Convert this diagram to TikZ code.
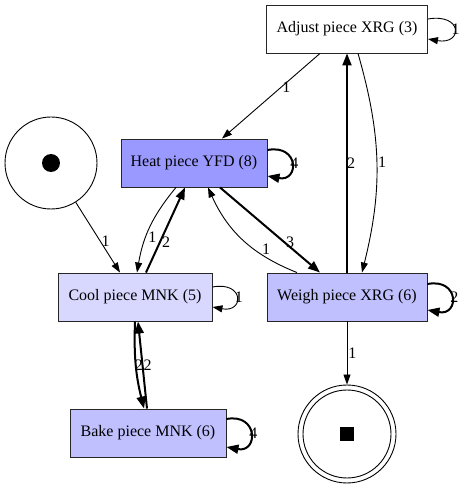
\documentclass[tikz,border=0pt]{standalone}
\usepackage{fontspec}
\setmainfont{Liberation Serif}
\usepackage{tikz}
\usetikzlibrary{arrows.meta}
\definecolor{heatfill}{RGB}{153,153,255}
\definecolor{coolfill}{RGB}{216,216,255}
\definecolor{midfill}{RGB}{192,192,255}
\tikzstyle{every node}=[font=\fontsize{16}{18}\selectfont]
\tikzstyle{activity}=[draw=black!85,line width=0.9pt,rectangle,minimum height=48pt,inner sep=0pt]
\tikzstyle{place}=[circle,draw,line width=0.9pt,inner sep=0pt]
\tikzstyle{flow}=[-{Triangle[length=10pt,width=7pt]},line width=0.9pt]
\tikzstyle{heavy}=[-{Triangle[length=12pt,width=9pt]},line width=2pt]
\tikzstyle{weight}=[inner sep=1pt]

\begin{document}
\begin{tikzpicture}[x=1pt,y=1pt]
          \useasboundingbox (0,0) rectangle (465,488);
          \node[place,minimum size=92pt] (start) at (51,325) {};
          \fill (start) circle (9pt);
          \node[place,minimum size=98pt] (end) at (347,54) {};
          \draw[line width=0.9pt] (end) circle (44pt);
          \fill ([shift={(-7pt,-7pt)}]end.center) rectangle ([shift={(7pt,7pt)}]end.center);
          \node[activity,minimum width=161pt,fill=white] (adjust) at (347,459) {Adjust piece XRG (3)};
          \node[activity,minimum width=146pt,fill=heatfill] (heat) at (194,325) {Heat piece YFD (8)};
          \node[activity,minimum width=154pt,fill=coolfill] (cool) at (135,191) {Cool piece MNK (5)};
          \node[activity,minimum width=160pt,fill=midfill] (weigh) at (347,191) {Weigh piece XRG (6)};
          \node[activity,minimum width=156pt,fill=midfill] (bake) at (148,55) {Bake piece MNK (6)};

          \draw[flow] (start) -- ([xshift=-15pt]cool.north) node[weight,pos=0.55,right] {1};
          \draw[flow] ([xshift=-27pt]adjust.south) -- ([xshift=28pt]heat.north) node[weight,pos=0.4,right] {1};
          \draw[flow] ([yshift=10pt]adjust.east) .. controls +(35,6) and +(35,-6) .. ([yshift=-10pt]adjust.east) node[weight,pos=0.5,right=-4pt] {1};
          \draw[heavy] ([yshift=13pt]heat.east) .. controls +(32,6) and +(32,-6) .. ([yshift=-13pt]heat.east) node[weight,pos=0.5,right=-3pt] {4};
          \draw[flow] ([xshift=-18pt]heat.south) to[bend right=15] node[weight,pos=0.62,right=1pt] {1} ([xshift=2pt]cool.north);
          \draw[heavy] ([xshift=11pt]cool.north) -- ([xshift=-9pt]heat.south) node[weight,pos=0.36,right] {2};
          \draw[heavy] ([xshift=26pt]heat.south) -- ([xshift=-27pt]weigh.north) node[weight,pos=0.64,right] {3};
          \draw[flow] ([xshift=-50pt]weigh.north) to[bend left=22] node[weight,pos=0.3,above right=-1pt] {1} ([xshift=14pt]heat.south);
          \draw[heavy] (weigh.north) -- (adjust.south) node[weight,pos=0.5,right=-2pt] {2};
          \draw[flow] ([xshift=11pt]adjust.south) to[bend left=15] node[weight,pos=0.5,right] {1} ([xshift=15pt]weigh.north);
          \draw[flow] ([yshift=10pt]cool.east) .. controls +(32,6) and +(32,-6) .. ([yshift=-10pt]cool.east) node[weight,pos=0.5,right=-3pt] {1};
          \draw[heavy] ([yshift=13pt]weigh.east) .. controls +(32,6) and +(32,-6) .. ([yshift=-13pt]weigh.east) node[weight,pos=0.5,right=-3pt] {2};
          \draw[heavy] (cool.south) to[bend right=8] node[weight,pos=0.5,right=-3pt] {2} ([xshift=-4pt]bake.north);
          \draw[heavy] ([xshift=-1pt]bake.north) -- ([xshift=3pt]cool.south) node[weight,pos=0.5,right=-1pt] {2};
          \draw[heavy] ([yshift=14pt]bake.east) .. controls +(32,6) and +(32,-6) .. ([yshift=-14pt]bake.east) node[weight,pos=0.5,right=-3pt] {4};
          \draw[flow] (weigh.south) -- (end) node[weight,pos=0.5,right] {1};
        \end{tikzpicture}
\end{document}
